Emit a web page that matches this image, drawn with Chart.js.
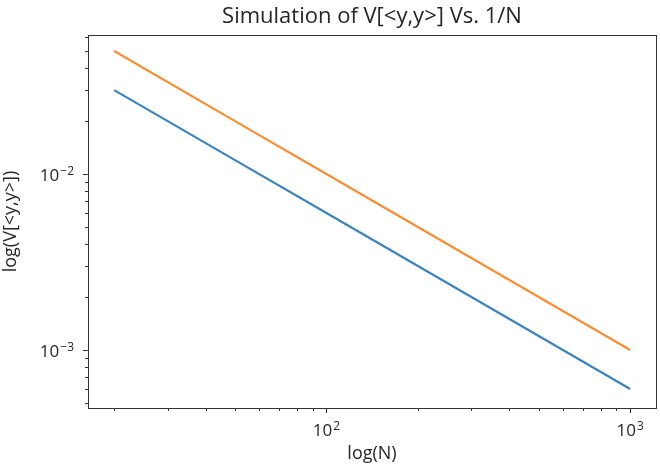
<!DOCTYPE html>
<html>
<head>
<meta charset="utf-8">
<script src="https://cdn.jsdelivr.net/npm/chart.js@4/dist/chart.umd.min.js"></script>
<style>
  html, body { margin: 0; padding: 0; background: #fff; }
  #wrap { width: 660px; height: 466px; }
</style>
</head>
<body>
<div id="wrap"><canvas id="grafico"></canvas></div>
<script>
// valores
const nValues = [20, 50, 100, 200, 500, 1000];
const varTeorica = [0.05, 0.02, 0.01, 0.005, 0.002, 0.001];
const varSimulada = [0.03, 0.012, 0.006, 0.003, 0.0012, 0.0006];

const xTicks = [20, 30, 40, 50, 60, 70, 80, 90, 100, 200, 300, 400, 500, 600, 700, 800, 900, 1000];
const yTicks = [0.0005, 0.0006, 0.0007, 0.0008, 0.0009, 0.001, 0.002, 0.003, 0.004, 0.005, 0.006, 0.007, 0.008, 0.009, 0.01, 0.02, 0.03, 0.04, 0.05, 0.06];
// base y exponente de cada etiqueta mayor
const tickLabels = { 100: ['10', '2'], 1000: ['10', '3'], 0.01: ['10', '\u22122'], 0.001: ['10', '\u22123'] };

const fuente = 'Open Sans';
const colorTexto = '#262626';

function esMayor(v) {
    return tickLabels[v] !== undefined;
}

// dibuja "10" con el exponente arriba; alinear: 'center' o 'right'
function dibujarPotencia(ctx, partes, x, yBase, alinear) {
    ctx.font = '17px "' + fuente + '"';
    const wBase = ctx.measureText(partes[0]).width;
    ctx.font = '12px "' + fuente + '"';
    const wExp = ctx.measureText(partes[1]).width;
    const total = wBase + wExp + 1;
    const x0 = alinear === 'right' ? x - total : x - total / 2;
    ctx.textAlign = 'left';
    ctx.textBaseline = 'alphabetic';
    ctx.font = '17px "' + fuente + '"';
    ctx.fillText(partes[0], x0, yBase);
    ctx.font = '12px "' + fuente + '"';
    ctx.fillText(partes[1], x0 + wBase + 1, yBase - 6);
}

// marcas de los ejes, marco, etiquetas y titulos, estilo matplotlib
const marcoPlugin = {
    id: 'marco',
    afterDraw(chart) {
        const ctx = chart.ctx;
        const area = chart.chartArea;
        ctx.save();
        ctx.strokeStyle = '#333';
        ctx.lineWidth = 1;
        ctx.strokeRect(Math.round(area.left) + 0.5, Math.round(area.top) + 0.5,
            Math.round(area.right - area.left), Math.round(area.bottom - area.top));

        const x = chart.scales.x;
        x.ticks.forEach(t => {
            const px = Math.round(x.getPixelForValue(t.value)) + 0.5;
            const len = esMayor(t.value) ? 5 : 3;
            ctx.beginPath();
            ctx.moveTo(px, area.bottom);
            ctx.lineTo(px, area.bottom + len);
            ctx.stroke();
        });
        const y = chart.scales.y;
        y.ticks.forEach(t => {
            const py = Math.round(y.getPixelForValue(t.value)) + 0.5;
            const len = esMayor(t.value) ? 5 : 3;
            ctx.beginPath();
            ctx.moveTo(area.left, py);
            ctx.lineTo(area.left - len, py);
            ctx.stroke();
        });

        ctx.fillStyle = colorTexto;
        x.ticks.filter(t => esMayor(t.value)).forEach(t => {
            dibujarPotencia(ctx, tickLabels[t.value], x.getPixelForValue(t.value), area.bottom + 28, 'center');
        });
        y.ticks.filter(t => esMayor(t.value)).forEach(t => {
            dibujarPotencia(ctx, tickLabels[t.value], area.left - 14, y.getPixelForValue(t.value) + 7, 'right');
        });

        ctx.textAlign = 'center';
        ctx.textBaseline = 'middle';
        ctx.font = '22px "' + fuente + '"';
        ctx.fillText('Simulation of V[<y,y>] Vs. 1/N', (area.left + area.right) / 2, 17);

        ctx.font = '18px "' + fuente + '"';
        ctx.fillText('log(N)', (area.left + area.right) / 2, 454);

        ctx.translate(11, (area.top + area.bottom) / 2);
        ctx.rotate(-Math.PI / 2);
        ctx.fillText('log(V[<y,y>])', 0, 0);
        ctx.restore();
    }
};

const ctx = document.getElementById('grafico').getContext('2d');

new Chart(ctx, {
    type: 'line',
    data: {
        labels: nValues,
        datasets: [
            {
                label: 'simulada',
                data: nValues.map((n, i) => ({ x: n, y: varSimulada[i] })),
                borderColor: '#3a84c0',
                borderWidth: 2.2,
                pointRadius: 0,
                fill: false,
            },
            {
                label: 'teorica',
                data: nValues.map((n, i) => ({ x: n, y: varTeorica[i] })),
                borderColor: '#f98d32',
                borderWidth: 2.2,
                pointRadius: 0,
                fill: false,
            },
        ],
    },
    options: {
        responsive: true,
        maintainAspectRatio: false,
        animation: false,
        layout: { padding: { top: 35, right: 4, left: 0, bottom: 0 } },
        plugins: {
            legend: { display: false },
            tooltip: { enabled: false },
        },
        scales: {
            x: {
                type: 'logarithmic',
                min: 16.4,
                max: 1216,
                grid: { display: false },
                border: { display: false },
                afterBuildTicks: scale => {
                    scale.ticks = xTicks.map(v => ({ value: v, major: esMayor(v) }));
                },
                afterFit: scale => { scale.height = 58; },
                ticks: {
                    autoSkip: false,
                    maxRotation: 0,
                    callback: () => '',
                },
            },
            y: {
                type: 'logarithmic',
                min: 0.000468,
                max: 0.0617,
                grid: { display: false },
                border: { display: false },
                afterBuildTicks: scale => {
                    scale.ticks = yTicks.map(v => ({ value: v, major: esMayor(v) }));
                },
                afterFit: scale => { scale.width = 88; },
                ticks: {
                    autoSkip: false,
                    callback: () => '',
                },
            },
        },
    },
    plugins: [marcoPlugin],
});
</script>
</body>
</html>
